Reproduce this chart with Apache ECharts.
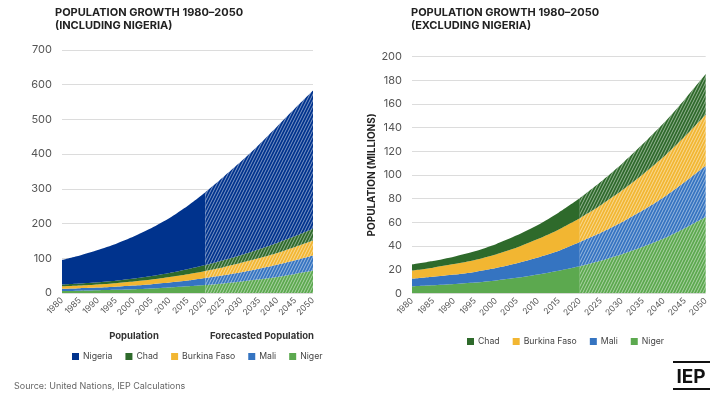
<!DOCTYPE html>
<html>
<head>
<meta charset="utf-8">
<script src="https://cdn.jsdelivr.net/npm/echarts@6/dist/echarts.min.js"></script>
<style>
  html, body { margin: 0; padding: 0; background: #fff; }
  #chart { width: 711px; height: 394px; }
</style>
</head>
<body>
<div id="chart"></div>
<script>
// Population in millions, 1980-2050 (values from 2020 on are forecasts)
const years = ['1980','1985','1990','1995','2000','2005','2010','2015','2020','2025','2030','2035','2040','2045','2050'];
const nigeria = [71, 81, 93, 106, 121, 138, 158, 182, 210, 240, 270, 302, 336, 368, 398];
const chad    = [5.0, 5.5, 6.2, 7.3, 8.6, 10.3, 12.0, 14.4, 16.9, 19.8, 22.6, 25.6, 28.5, 31.4, 34.3];
const burkina = [7.0, 7.8, 8.9, 10.1, 11.6, 13.4, 15.6, 18.1, 20.2, 23.4, 26.8, 30.4, 34.2, 38.4, 43.1];
const mali    = [6.5, 7.2, 8.0, 9.0, 10.4, 12.2, 14.3, 16.8, 20.5, 23.6, 27.0, 30.8, 34.9, 39.1, 43.4];
const niger   = [5.8, 6.7, 7.8, 9.1, 10.9, 13.1, 15.9, 19.1, 22.8, 27.5, 33.0, 39.3, 46.3, 55.0, 64.5];
const forecastFrom = '2020';

const leftTicks = { min: 0, max: 700, interval: 100 };
const rightTicks = { min: 0, max: 200, interval: 20 };

const colors = {
  Nigeria: '#00338d',
  Chad: '#2e6a2b',
  'Burkina Faso': '#f2b632',
  Mali: '#3574c1',
  Niger: '#5ca94f'
};

// Diagonal white hatch used for the forecast period
function hatch(color) {
  const c = document.createElement('canvas');
  c.width = 3; c.height = 6;
  const ctx = c.getContext('2d');
  ctx.fillStyle = color;
  ctx.fillRect(0, 0, 3, 6);
  ctx.strokeStyle = 'rgba(255,255,255,0.5)';
  ctx.lineWidth = 1;
  for (const k of [-3, 0, 3]) {
    ctx.beginPath();
    ctx.moveTo(k, 6);
    ctx.lineTo(k + 3, 0);
    ctx.stroke();
  }
  return c;
}

const cut = years.indexOf(forecastFrom);
const histPart = arr => arr.map((v, i) => (i <= cut ? v : '-'));
const forePart = arr => arr.map((v, i) => (i >= cut ? v : '-'));

function areaPair(name, values, gridIdx) {
  const base = {
    type: 'line',
    name: name,
    xAxisIndex: gridIdx,
    yAxisIndex: gridIdx,
    showSymbol: false,
    symbol: 'none',
    smooth: 0.2,
    lineStyle: { width: 0 },
    color: colors[name],
    emphasis: { disabled: true }
  };
  return [
    Object.assign({}, base, {
      stack: 'hist' + gridIdx,
      data: histPart(values),
      areaStyle: { color: colors[name], opacity: 1 }
    }),
    Object.assign({}, base, {
      stack: 'fore' + gridIdx,
      data: forePart(values),
      areaStyle: { color: { image: hatch(colors[name]), repeat: 'repeat' }, opacity: 1 }
    })
  ];
}

// First series sits at the bottom of the stack
const leftOrder = [['Niger', niger], ['Mali', mali], ['Burkina Faso', burkina], ['Chad', chad], ['Nigeria', nigeria]];
const rightOrder = [['Niger', niger], ['Mali', mali], ['Burkina Faso', burkina], ['Chad', chad]];

const series = [];
leftOrder.forEach(([n, v]) => series.push(...areaPair(n, v, 0)));
rightOrder.forEach(([n, v]) => series.push(...areaPair(n, v, 1)));

const font = 'Inter, "Liberation Sans", Arial, sans-serif';
const axisLabelY = { color: '#555', fontSize: 11, fontFamily: font, margin: 10 };
const axisLabelX = { color: '#555', fontSize: 8.5, fontFamily: font, rotate: 45, margin: 6, interval: 0 };

const legendText = { color: '#444', fontSize: 8.7, fontFamily: font, padding: [0, 0, 0, -1] };

const chart = echarts.init(document.getElementById('chart'), null, { renderer: 'canvas' });
chart.setOption({
  animation: false,
  backgroundColor: '#fff',
  grid: [
    { left: 62, right: 398, top: 50, bottom: 101 },
    { left: 412, right: 5, top: 56.7, bottom: 100.7 }
  ],
  xAxis: [0, 1].map(i => ({
    type: 'category',
    gridIndex: i,
    data: years,
    boundaryGap: false,
    axisLine: { show: false },
    axisTick: { show: false },
    axisLabel: axisLabelX,
    splitLine: { show: false }
  })),
  yAxis: [
    Object.assign({ type: 'value', gridIndex: 0 }, leftTicks, {
      axisLabel: axisLabelY,
      splitLine: { lineStyle: { color: '#dcdcdc', width: 1 } },
      axisLine: { show: false }, axisTick: { show: false }
    }),
    Object.assign({ type: 'value', gridIndex: 1 }, rightTicks, {
      name: 'POPULATION (MILLIONS)',
      nameLocation: 'middle',
      nameGap: 35,
      nameTextStyle: { color: '#222', fontSize: 10, fontWeight: 'bold', fontFamily: font },
      axisLabel: axisLabelY,
      splitLine: { lineStyle: { color: '#dcdcdc', width: 1 } },
      axisLine: { show: false }, axisTick: { show: false }
    })
  ],
  legend: [
    {
      data: ['Nigeria', 'Chad', 'Burkina Faso', 'Mali', 'Niger'],
      left: 67, top: 347, width: 300, padding: 5, itemWidth: 7, itemHeight: 7, itemGap: 13,
      icon: 'rect', selectedMode: false, textStyle: legendText
    },
    {
      data: ['Chad', 'Burkina Faso', 'Mali', 'Niger'],
      left: 462, top: 332, width: 300, padding: 5, itemWidth: 7, itemHeight: 7, itemGap: 13,
      icon: 'rect', selectedMode: false, textStyle: legendText
    }
  ],
  series: series,
  graphic: [
    { type: 'text', left: 55, top: 6, style: { text: 'POPULATION GROWTH 1980–2050\n(INCLUDING NIGERIA)', fill: '#222', font: 'bold 11px ' + font, lineHeight: 13 } },
    { type: 'text', left: 411, top: 6, style: { text: 'POPULATION GROWTH 1980–2050\n(EXCLUDING NIGERIA)', fill: '#222', font: 'bold 11px ' + font, lineHeight: 13 } },
    { type: 'text', x: 134, y: 336, style: { text: 'Population', fill: '#333', font: 'bold 9.5px ' + font, align: 'center', verticalAlign: 'middle' } },
    { type: 'text', x: 262, y: 336, style: { text: 'Forecasted Population', fill: '#333', font: 'bold 9.5px ' + font, align: 'center', verticalAlign: 'middle' } },
    { type: 'text', left: 14, top: 382, style: { text: 'Source: United Nations, IEP Calculations', fill: '#666', font: '9px ' + font } },
    { type: 'rect', shape: { x: 673, y: 361, width: 37, height: 2 }, style: { fill: '#111' } },
    { type: 'text', x: 691, y: 377, style: { text: 'IEP', fill: '#111', font: 'bold 19px ' + font, align: 'center', verticalAlign: 'middle' } },
    { type: 'rect', shape: { x: 673, y: 388, width: 37, height: 2 }, style: { fill: '#111' } }
  ]
});
</script>
</body>
</html>
